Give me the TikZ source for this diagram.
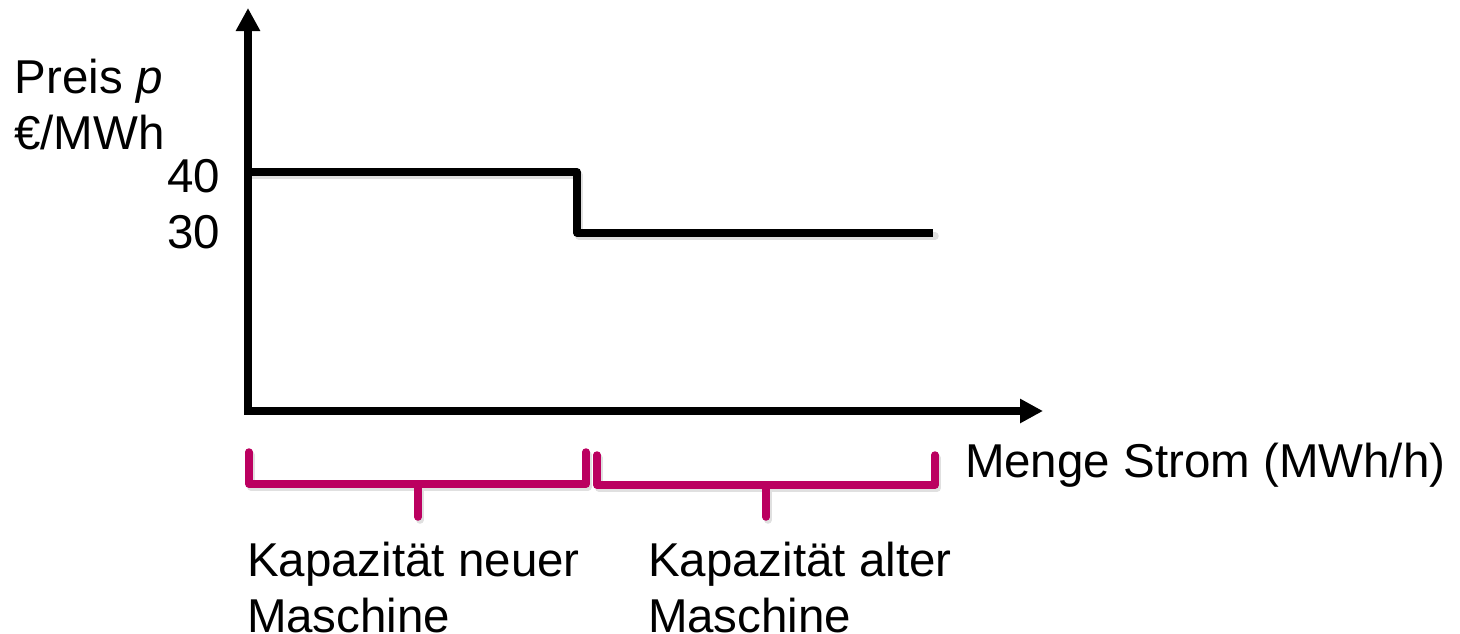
\documentclass[tikz,border=0pt]{standalone}
\usepackage{fontspec}
\setmainfont{Liberation Sans}
\usetikzlibrary{arrows.meta}
\definecolor{brmag}{RGB}{187,0,96}
\tikzset{
  lbl/.style={inner sep=0pt, outer sep=0pt, font=\fontsize{47.5}{57}\selectfont},
  axisline/.style={line width=7.5pt, black, >={Triangle[length=23pt,width=23pt]}},
  curveline/.style={line width=7.5pt, black, line join=round},
  bracketline/.style={line width=7.5pt, brmag, line cap=round, line join=round},
  shade/.style={line width=7.5pt, black!12, line cap=round, line join=round}
}
\begin{document}
\begin{tikzpicture}[x=1pt,y=-1pt]
\useasboundingbox (0,0) rectangle (1460,633);
% coordinates
\coordinate (ytop) at (248,8);
\coordinate (orig) at (248,411);
\coordinate (xend) at (1043,411);
\coordinate (c1) at (248,172);
\coordinate (c2) at (577,172);
\coordinate (c3) at (577,233);
\coordinate (c4) at (933,233);
\coordinate (a1) at (249,452);
\coordinate (a2) at (249,484);
\coordinate (a3) at (586,484);
\coordinate (a4) at (586,452);
\coordinate (am) at (418,484);
\coordinate (amt) at (418,517);
\coordinate (b1) at (597,455);
\coordinate (b2) at (597,485);
\coordinate (b3) at (935,485);
\coordinate (b4) at (935,455);
\coordinate (bm) at (766,485);
\coordinate (bmt) at (766,517);
% shadows
\draw[shade] ([shift={(2,3)}]c1) -- ([shift={(2,3)}]c2) -- ([shift={(2,3)}]c3) -- ([shift={(2,3)}]c4);
\draw[shade] ([shift={(2,3)}]a1) -- ([shift={(2,3)}]a2) -- ([shift={(2,3)}]a3) -- ([shift={(2,3)}]a4);
\draw[shade] ([shift={(2,3)}]am) -- ([shift={(2,3)}]amt);
\draw[shade] ([shift={(2,3)}]b1) -- ([shift={(2,3)}]b2) -- ([shift={(2,3)}]b3) -- ([shift={(2,3)}]b4);
\draw[shade] ([shift={(2,3)}]bm) -- ([shift={(2,3)}]bmt);
% axes
\draw[axisline, <->] (ytop) -- (orig) -- (xend);
% supply curve
\draw[curveline] (c1) -- (c2) -- (c3) -- (c4);
% brackets
\draw[bracketline] (a1) -- (a2) -- (a3) -- (a4);
\draw[bracketline] (am) -- (amt);
\draw[bracketline] (b1) -- (b2) -- (b3) -- (b4);
\draw[bracketline] (bm) -- (bmt);
% labels
\node[lbl, anchor=base west] (preis) at (15,93) {Preis \textit{p}};
\node[lbl, anchor=base west] (unit) at (14,149) {€/MWh};
\node[lbl, anchor=base east] (v40) at (220,192) {40};
\node[lbl, anchor=base east] (v30) at (220,248) {30};
\node[lbl, anchor=base west] (menge) at (965,477) {Menge Strom (MWh/h)};
\node[lbl, anchor=base west] (kn1) at (247,576) {Kapazität neuer};
\node[lbl, anchor=base west] (kn2) at (247,632) {Maschine};
\node[lbl, anchor=base west] (ka1) at (648,576) {Kapazität alter};
\node[lbl, anchor=base west] (ka2) at (648,632) {Maschine};
\end{tikzpicture}
\end{document}
